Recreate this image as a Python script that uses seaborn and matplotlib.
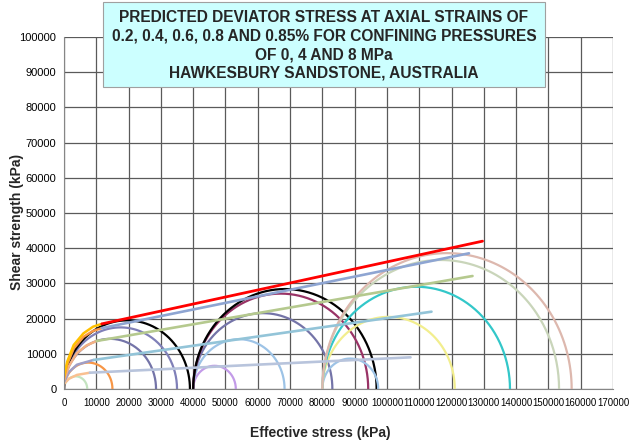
import numpy as np
import pandas as pd
import matplotlib
matplotlib.use("Agg")
import matplotlib.pyplot as plt
import matplotlib.patches as mpatches
import seaborn as sns

# Mohr circles: minor principal stress (confining) and major principal stress, kPa
confining = [0, 40000, 80000]
strains = ["0.2", "0.4", "0.6", "0.8", "0.85"]
sigma1_c0 = [7200, 15000, 28500, 35000, 39000]
sigma1_c4 = [53200, 68300, 83100, 94200, 96800]
sigma1_c8 = [97300, 121000, 138100, 153300, 157200]

colors_c0 = ["#C4E3C0", "#F79646", "#7474A8", "#8080B8", "#000000"]
colors_c4 = ["#C39BE8", "#9DC3E6", "#7474A8", "#993366", "#000000"]
colors_c8 = ["#9DC3E6", "#F2EE8E", "#33C7C9", "#C9D5BA", "#DDB8AE"]

# straight envelope segments per strain (start / end points)
env_x0 = [8000, 9100, 10100, 11700, 11700]
env_y0 = [4630, 8240, 13640, 17300, 18500]
env_x1 = [107300, 113800, 126500, 125400, 129600]
env_y1 = [9000, 21960, 32100, 38550, 42000]
env_colors = ["#B8C4DC", "#93C4D8", "#B5C98E", "#8EA5D2", "#FF0000"]

# curved envelope parts near the origin
curve_x = [
    [0, 1500, 4000, 8000],
    [0, 1500, 4000, 9100],
    [0, 1500, 4000, 7000, 10100],
    [0, 1000, 3000, 6000, 9000, 11700],
    [0, 1000, 3000, 6000, 9000, 11700],
]
curve_y = [
    [1400, 2900, 4000, 4630],
    [2000, 4800, 6900, 8240],
    [2500, 6500, 10200, 12400, 13640],
    [3000, 7000, 11500, 14800, 16500, 17300],
    [3500, 7800, 12500, 15800, 17700, 18500],
]
curve_colors = ["#FAC090", "#9F9FC8", "#F4B183", "#F79646", "#FFC000"]

xticks = list(range(0, 170001, 10000))
yticks = list(range(0, 100001, 10000))

sns.set_style("white")
plt.rcParams["font.family"] = ["Liberation Sans", "DejaVu Sans"]

fig = plt.figure(figsize=(6.3, 4.45), dpi=100)
ax = fig.add_axes([64 / 630, 1 - 389 / 445, (613 - 64) / 630, (389 - 37) / 445])

theta = np.linspace(0, np.pi, 181)
for s3, s1_list, cols in zip(confining, [sigma1_c0, sigma1_c4, sigma1_c8],
                             [colors_c0, colors_c4, colors_c8]):
    for s1, c in zip(s1_list, cols):
        centre = (s1 + s3) / 2
        radius = (s1 - s3) / 2
        df = pd.DataFrame({"x": centre + radius * np.cos(theta),
                           "y": radius * np.sin(theta)})
        sns.lineplot(data=df, x="x", y="y", sort=False, estimator=None,
                     color=c, lw=1.6, ax=ax)

for cx, cy, c in zip(curve_x, curve_y, curve_colors):
    sns.lineplot(x=cx, y=cy, sort=False, estimator=None, color=c, lw=1.8, ax=ax)

for x0, y0, x1, y1, c in zip(env_x0, env_y0, env_x1, env_y1, env_colors):
    sns.lineplot(x=[x0, x1], y=[y0, y1], sort=False, estimator=None,
                 color=c, lw=2.0 if c == "#FF0000" else 1.9, ax=ax)

ax.set_xlim(0, 170000)
ax.set_ylim(0, 100000)
ax.set_xticks(xticks)
ax.set_yticks(yticks)
# x labels are crowded, keep them just small enough not to collide
ax.set_xticklabels([str(t) for t in xticks], fontsize=6.9)
ax.set_yticklabels([str(t) for t in yticks], fontsize=8)
ax.grid(True, color="#5A5A5A", lw=0.9)
ax.set_axisbelow(True)
ax.tick_params(axis="both", direction="out", length=3.5, width=0.8,
               color="#868686", pad=2, labelcolor="#000000")
ax.tick_params(axis="x", pad=3)
for side in ["left", "bottom"]:
    ax.spines[side].set_color("#868686")
for side in ["top", "right"]:
    ax.spines[side].set_visible(False)
ax.set_xlabel("")
ax.set_ylabel("")

fig.text(320 / 630, 1 - 433 / 445, "Effective stress (kPa)", ha="center",
         va="center", fontsize=10, fontweight="bold")
fig.text(17 / 630, 1 - 222 / 445, "Shear strength (kPa)", ha="center",
         va="center", rotation=90, fontsize=10, fontweight="bold")

box = mpatches.Rectangle((103 / 630, 1 - 87 / 445), (545 - 103) / 630, 85 / 445,
                         transform=fig.transFigure, facecolor="#CCFFFF",
                         edgecolor="#A0A0A0", lw=0.8, zorder=5)
fig.patches.append(box)
title_lines = ["PREDICTED DEVIATOR STRESS AT AXIAL STRAINS OF",
               "0.2, 0.4, 0.6, 0.8 AND 0.85% FOR CONFINING PRESSURES",
               "OF 0, 4 AND 8 MPa",
               "HAWKESBURY SANDSTONE, AUSTRALIA"]
for line, ypx in zip(title_lines, [17, 36, 55, 73]):
    fig.text(324 / 630, 1 - ypx / 445, line, ha="center", va="center",
             fontsize=11.2, fontweight="bold", zorder=6)

fig.savefig("out.png", dpi=100)
